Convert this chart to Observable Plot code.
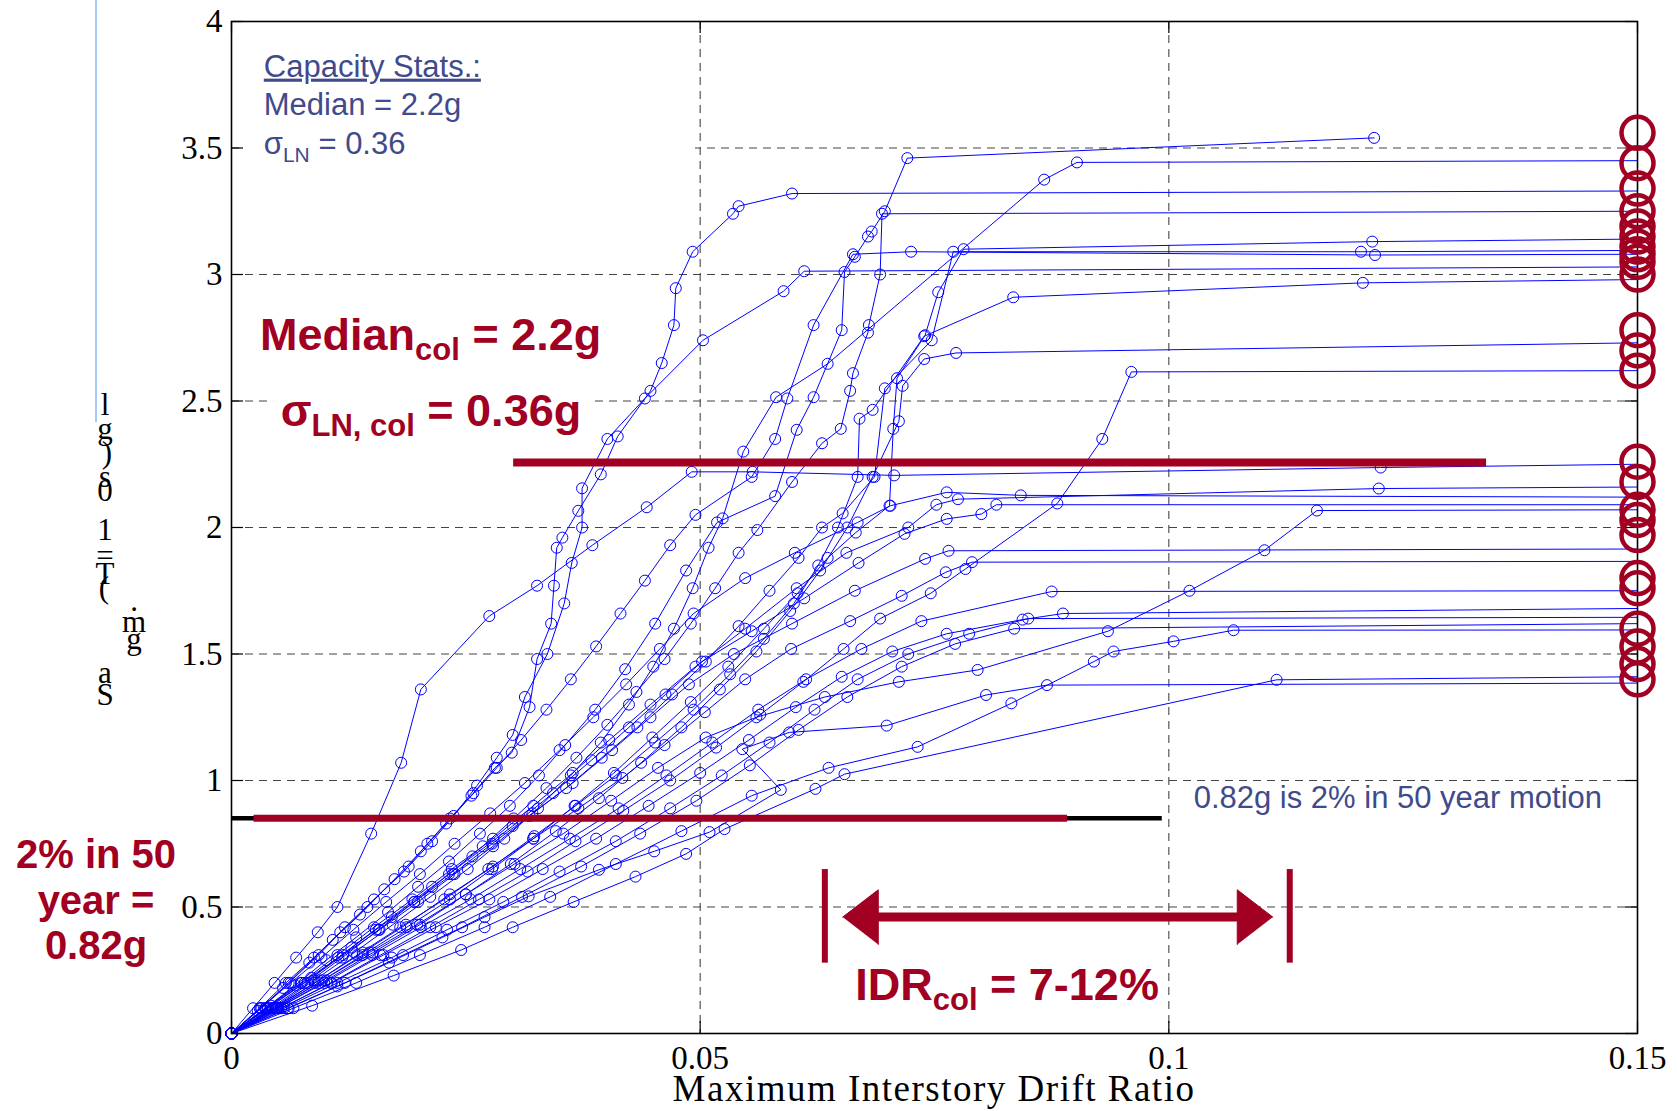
<!DOCTYPE html>
<html><head><meta charset="utf-8">
<script src="https://cdn.jsdelivr.net/npm/d3@7"></script>
<script src="https://cdn.jsdelivr.net/npm/@observablehq/plot@0.6"></script>
<style>html,body{margin:0;padding:0;background:#fff;} svg{display:block}</style>
</head><body><div id="chart"></div>
<script>
// ---- IDA curves: [max interstory drift ratio, Sa (g)] ----
const curve01 = [[0,0],[0.0023,0.1],[0.0046,0.2],[0.0069,0.3],[0.0092,0.4],[0.0113,0.50],[0.0149,0.79],[0.0181,1.07],[0.0202,1.36],[0.0275,1.65],[0.0326,1.77],[0.0385,1.93],[0.0443,2.08],[0.0491,2.22],[0.0556,2.22],[0.0707,2.206],[0.1226,2.237],[0.15,2.25]];
const curve02 = [[0,0],[0.0032,0.1],[0.0061,0.2],[0.0093,0.31],[0.0121,0.42],[0.0152,0.53],[0.0184,0.64],[0.0209,0.75],[0.0233,0.85],[0.0258,0.95],[0.0281,1.05],[0.0299,1.11],[0.0318,1.29],[0.0326,1.48],[0.0341,1.62],[0.0344,1.77],[0.0347,1.92],[0.0353,1.96],[0.037,2.066],[0.0394,2.21],[0.0412,2.36],[0.0447,2.54],[0.0459,2.65],[0.0472,2.80],[0.0474,2.946],[0.0492,3.09],[0.0535,3.24],[0.0541,3.27],[0.0598,3.32],[0.15,3.33]];
const curve03 = [[0,0],[0.0028,0.09],[0.0055,0.18],[0.0083,0.28],[0.0108,0.37],[0.0137,0.47],[0.0163,0.57],[0.0189,0.66],[0.0214,0.76],[0.0237,0.86],[0.0262,0.98],[0.0283,1.09],[0.030,1.18],[0.0313,1.33],[0.0337,1.50],[0.0355,1.70],[0.0363,1.86],[0.0374,2.0],[0.0374,2.155],[0.0401,2.35],[0.0441,2.51],[0.0503,2.74],[0.0589,2.934],[0.0611,3.013],[0.15,3.03]];
const curve04 = [[0,0],[0.0036,0.1],[0.0068,0.19],[0.0101,0.29],[0.0133,0.38],[0.0167,0.48],[0.0199,0.58],[0.0232,0.68],[0.0265,0.79],[0.0297,0.90],[0.0328,1.02],[0.0356,1.14],[0.0388,1.28],[0.042,1.44],[0.0452,1.62],[0.0485,1.83],[0.0518,2.02],[0.0580,2.124],[0.0603,2.386],[0.0621,2.515],[0.0651,2.78],[0.0654,3.01],[0.0665,3.07],[0.0679,3.15],[0.0683,3.17],[0.0697,3.25],[0.0721,3.46],[0.1219,3.54]];
const curve05 = [[0,0],[0.0042,0.1],[0.0081,0.2],[0.0118,0.3],[0.0157,0.41],[0.0195,0.52],[0.0232,0.63],[0.0268,0.74],[0.0301,0.85],[0.0336,0.97],[0.0368,1.09],[0.0401,1.22],[0.0432,1.35],[0.0462,1.48],[0.049,1.62],[0.0516,1.76],[0.0541,1.9],[0.0561,1.99],[0.0598,2.18],[0.063,2.333],[0.065,2.39],[0.066,2.54],[0.0663,2.61],[0.0679,2.77],[0.068,2.80],[0.0692,3.0],[0.0694,3.24],[0.15,3.25]];
const curve06 = [[0,0],[0.0044,0.1],[0.0088,0.21],[0.0131,0.32],[0.0172,0.43],[0.0212,0.54],[0.0252,0.65],[0.0291,0.77],[0.0327,0.89],[0.0362,1.02],[0.0394,1.15],[0.0424,1.3],[0.045,1.45],[0.0472,1.6],[0.0492,1.76],[0.0509,1.92],[0.0524,2.036],[0.0546,2.3],[0.0581,2.515],[0.0636,2.647],[0.0867,3.375],[0.0902,3.443],[0.15,3.45]];
const curve07 = [[0,0],[0.0047,0.1],[0.0093,0.2],[0.014,0.31],[0.0187,0.42],[0.0233,0.53],[0.0278,0.65],[0.0322,0.77],[0.0366,0.9],[0.0408,1.03],[0.0449,1.17],[0.049,1.31],[0.053,1.45],[0.0568,1.6],[0.0604,1.74],[0.0636,1.88],[0.0666,1.98],[0.0702,2.086],[0.0706,2.39],[0.0710,2.59],[0.074,2.76],[0.0754,2.93],[0.0781,3.10],[0.1217,3.13],[0.15,3.14]];
const curve08 = [[0,0],[0.0039,0.1],[0.0078,0.2],[0.0119,0.31],[0.0158,0.41],[0.0199,0.52],[0.0238,0.63],[0.0279,0.74],[0.0318,0.86],[0.0357,0.97],[0.0395,1.09],[0.0433,1.21],[0.047,1.34],[0.0506,1.47],[0.0541,1.61],[0.0574,1.75],[0.0605,1.88],[0.063,2.0],[0.0652,2.056],[0.0686,2.2],[0.0697,2.55],[0.0747,2.74],[0.077,3.09],[0.1205,3.09],[0.15,3.095]];
const curve09 = [[0,0],[0.003,0.1],[0.0058,0.2],[0.0088,0.3],[0.0116,0.4],[0.0145,0.5],[0.0174,0.61],[0.0202,0.72],[0.0229,0.83],[0.0256,0.94],[0.0283,1.05],[0.0309,1.16],[0.0336,1.28],[0.0362,1.4],[0.0389,1.53],[0.0415,1.66],[0.0441,1.79],[0.0468,1.93],[0.0495,2.05],[0.0555,2.2],[0.058,2.35],[0.0593,2.51],[0.0621,2.8],[0.0663,3.08],[0.0725,3.09],[0.122,3.077],[0.15,3.08]];
const curve10 = [[0,0],[0.0046,0.1],[0.0093,0.21],[0.014,0.32],[0.0186,0.43],[0.0233,0.55],[0.0279,0.66],[0.0323,0.78],[0.0367,0.9],[0.041,1.02],[0.0452,1.15],[0.0493,1.28],[0.0532,1.42],[0.0568,1.56],[0.06,1.7],[0.0626,1.85],[0.0647,2.0],[0.0668,2.2],[0.067,2.43],[0.0684,2.465],[0.0739,2.756],[0.0834,2.91],[0.1207,2.967],[0.15,2.98]];
const curve11 = [[0,0],[0.005,0.1],[0.0101,0.21],[0.0151,0.32],[0.0201,0.43],[0.025,0.55],[0.0298,0.67],[0.0346,0.8],[0.0392,0.93],[0.0437,1.07],[0.048,1.21],[0.0521,1.36],[0.056,1.51],[0.0596,1.67],[0.0628,1.83],[0.0657,2.0],[0.0684,2.2],[0.0712,2.42],[0.0716,2.56],[0.0739,2.666],[0.0773,2.69],[0.15,2.73]];
const curve12 = [[0,0],[0.0053,0.1],[0.0106,0.2],[0.0159,0.31],[0.0212,0.42],[0.0264,0.53],[0.0316,0.64],[0.0367,0.76],[0.0418,0.88],[0.0468,1.0],[0.0517,1.13],[0.0564,1.26],[0.061,1.39],[0.0653,1.52],[0.0692,1.64],[0.0746,1.74],[0.0783,1.836],[0.0881,2.095],[0.0929,2.35],[0.096,2.615],[0.15,2.62]];
const curve13 = [[0,0],[0.0036,0.1],[0.0074,0.2],[0.0113,0.31],[0.0152,0.42],[0.0193,0.53],[0.0235,0.65],[0.0279,0.77],[0.0322,0.9],[0.0364,1.03],[0.0403,1.16],[0.0447,1.3],[0.0495,1.45],[0.0548,1.6],[0.0603,1.76],[0.0656,1.9],[0.0722,2.0],[0.0752,2.09],[0.0775,2.112],[0.1224,2.154],[0.15,2.16]];
const curve14 = [[0,0],[0.0031,0.1],[0.0063,0.2],[0.0096,0.3],[0.013,0.41],[0.0165,0.52],[0.0201,0.63],[0.0238,0.75],[0.0276,0.87],[0.0313,0.99],[0.035,1.12],[0.0386,1.25],[0.0421,1.38],[0.0457,1.52],[0.0493,1.66],[0.0548,1.8],[0.0601,1.9],[0.0668,2.02],[0.0703,2.086],[0.0763,2.139],[0.0842,2.127],[0.15,2.12]];
const curve15 = [[0,0],[0.0042,0.11],[0.0085,0.22],[0.0128,0.34],[0.0171,0.46],[0.0214,0.58],[0.0257,0.7],[0.03,0.82],[0.0343,0.95],[0.0384,1.08],[0.0424,1.21],[0.0463,1.34],[0.0502,1.47],[0.0555,1.59],[0.0611,1.72],[0.0669,1.86],[0.0718,1.975],[0.0763,2.034],[0.08,2.053],[0.0816,2.09],[0.15,2.09]];
const curve16 = [[0,0],[0.0048,0.1],[0.0097,0.21],[0.0147,0.32],[0.0198,0.43],[0.025,0.55],[0.0302,0.67],[0.0354,0.79],[0.0405,0.92],[0.0455,1.05],[0.0506,1.17],[0.056,1.25],[0.0633,1.33],[0.0712,1.39],[0.0796,1.437],[0.0935,1.59],[0.1022,1.75],[0.1102,1.91],[0.1158,2.067],[0.15,2.07]];
const curve17 = [[0,0],[0.0037,0.1],[0.0075,0.2],[0.0114,0.3],[0.0154,0.41],[0.0195,0.52],[0.0236,0.63],[0.0278,0.75],[0.0321,0.87],[0.0364,0.99],[0.0406,1.12],[0.0447,1.25],[0.0488,1.38],[0.0536,1.5],[0.0598,1.62],[0.0665,1.75],[0.074,1.876],[0.0765,1.908],[0.15,1.915]];
const curve18 = [[0,0],[0.0044,0.1],[0.0089,0.2],[0.0134,0.31],[0.018,0.42],[0.0227,0.53],[0.0274,0.65],[0.0322,0.77],[0.037,0.89],[0.0417,1.01],[0.0462,1.14],[0.0505,1.27],[0.0548,1.4],[0.0597,1.52],[0.066,1.63],[0.0715,1.73],[0.0762,1.823],[0.079,1.863],[0.15,1.866]];
const curve19 = [[0,0],[0.0049,0.1],[0.0099,0.2],[0.015,0.31],[0.0202,0.42],[0.0255,0.53],[0.0308,0.65],[0.0361,0.77],[0.0413,0.89],[0.0464,1.02],[0.0513,1.15],[0.0562,1.28],[0.0613,1.4],[0.0672,1.52],[0.0736,1.63],[0.0875,1.747],[0.15,1.75]];
const curve20 = [[0,0],[0.0053,0.1],[0.0107,0.2],[0.0162,0.31],[0.0218,0.42],[0.0275,0.53],[0.0332,0.65],[0.0389,0.77],[0.0445,0.9],[0.05,1.03],[0.0552,1.16],[0.0602,1.29],[0.0651,1.41],[0.0705,1.51],[0.0763,1.58],[0.0844,1.636],[0.0887,1.66],[0.15,1.68]];
const curve21 = [[0,0],[0.0056,0.1],[0.0113,0.2],[0.0171,0.3],[0.023,0.41],[0.029,0.52],[0.035,0.64],[0.041,0.76],[0.0468,0.89],[0.0523,1.02],[0.0574,1.15],[0.0622,1.28],[0.0668,1.4],[0.0722,1.5],[0.0787,1.58],[0.085,1.64],[0.15,1.645]];
const curve22 = [[0,0],[0.006,0.1],[0.0121,0.2],[0.0183,0.31],[0.0246,0.42],[0.031,0.54],[0.0373,0.66],[0.0436,0.79],[0.0496,0.92],[0.0553,1.06],[0.0605,1.2],[0.0657,1.33],[0.0715,1.45],[0.0772,1.54],[0.0835,1.6],[0.15,1.62]];
const curve23 = [[0,0],[0.0066,0.1],[0.0133,0.2],[0.0201,0.31],[0.027,0.42],[0.034,0.54],[0.041,0.67],[0.048,0.8],[0.0555,0.94],[0.0637,1.05],[0.0732,1.133],[0.0832,1.305],[0.092,1.47],[0.0941,1.51],[0.1005,1.55],[0.1069,1.594],[0.15,1.595]];
const curve24 = [[0,0],[0.0061,0.1],[0.0113,0.186],[0.0168,0.28],[0.0225,0.38],[0.027,0.46],[0.0317,0.542],[0.0392,0.647],[0.0451,0.72],[0.051,0.796],[0.0586,0.963],[0.0545,1.124],[0.0595,1.19],[0.0699,1.217],[0.0805,1.338],[0.087,1.377],[0.15,1.385]];
const curve25 = [[0,0],[0.0086,0.11],[0.0173,0.229],[0.0245,0.33],[0.03,0.42],[0.0365,0.52],[0.0431,0.62],[0.0485,0.71],[0.0526,0.808],[0.0623,0.967],[0.0654,1.025],[0.1115,1.398],[0.15,1.41]];
const curves = [curve01,curve02,curve03,curve04,curve05,curve06,curve07,curve08,curve09,curve10,curve11,curve12,curve13,curve14,curve15,curve16,curve17,curve18,curve19,curve20,curve21,curve22,curve23,curve24,curve25];

// collapse points (red circles) at the drift cap
const collapseDrift = 0.15;
const collapseSa = [3.56,3.44,3.34,3.25,3.19,3.15,3.11,3.08,3.05,3.0,2.78,2.70,2.62,2.26,2.18,2.07,2.03,1.97,1.80,1.76,1.60,1.53,1.46,1.40];

// axes ticks
const xTicks = [0, 0.05, 0.1, 0.15];
const yTicks = [0, 0.5, 1, 1.5, 2, 2.5, 3, 3.5, 4];
const xGrid = [0.05, 0.1];
const yGrid = [0.5, 1, 1.5, 2, 2.5, 3, 3.5];

// annotation lines
const medianBar = [{y: 2.257, x1: 0.0301, x2: 0.1339}];
const hazardLine = [{y: 0.851, x1: 0, x2: 0.0993}];
const hazardBar = [{y: 0.851, x1: 0.0024, x2: 0.0892}];
const idrLimits = [{x: 0.0633, y1: 0.278, y2: 0.648}, {x: 0.1129, y1: 0.278, y2: 0.648}];
const idrArrow = {y: 0.46, xLeft: 0.0652, xRight: 0.1111, head: 0.0038, half: 0.108};
// white boxes behind text blocks (data extents)
const textBoxes = [{x1: 0.0012, x2: 0.0495, y1: 3.40, y2: 3.93}, {x1: 0.0045, x2: 0.0386, y1: 2.36, y2: 2.56}];

// ---- layout / style ----
const W = 1677, H = 1111;
const RED = "#a10022", BLUE = "#0000ff", SLATE = "#404a8c";

const pts = curves.flatMap((c, i) => c.map(([x, y]) => ({id: i, x, y})));
const markers = pts.filter(d => d.x < collapseDrift);

const heads = [
  {id: "L", p: [[idrArrow.xLeft, idrArrow.y], [idrArrow.xLeft + idrArrow.head, idrArrow.y + idrArrow.half], [idrArrow.xLeft + idrArrow.head, idrArrow.y - idrArrow.half]]},
  {id: "R", p: [[idrArrow.xRight, idrArrow.y], [idrArrow.xRight - idrArrow.head, idrArrow.y + idrArrow.half], [idrArrow.xRight - idrArrow.head, idrArrow.y - idrArrow.half]]}
].flatMap(h => h.p.map(([x, y]) => ({id: h.id, x, y})));
const shaft = [{y: idrArrow.y, x1: idrArrow.xLeft + idrArrow.head * 0.5, x2: idrArrow.xRight - idrArrow.head * 0.5}];

const pxX = 0.15 / 1406, pxY = 4 / 1012; // data units per pixel (for inward tick length)
const tl = 12;

const plot = Plot.plot({
  width: W, height: H,
  marginLeft: 231, marginRight: 40, marginTop: 21, marginBottom: 78,
  x: {domain: [0, 0.15]},
  y: {domain: [0, 4]},
  style: {background: "white", fontFamily: "'Liberation Serif', 'Times New Roman', serif", fontSize: "33px", color: "black", overflow: "visible"},
  marks: [
    Plot.ruleX(xGrid, {stroke: "#444", strokeDasharray: "8,6", strokeWidth: 1.1}),
    Plot.ruleY(yGrid, {stroke: "#444", strokeDasharray: "8,6", strokeWidth: 1.1}),
    Plot.rect(textBoxes, {x1: "x1", x2: "x2", y1: "y1", y2: "y2", fill: "white"}),
    Plot.line(pts, {x: "x", y: "y", z: "id", stroke: BLUE, strokeWidth: 1, curve: "linear"}),
    Plot.dot(markers, {x: "x", y: "y", r: 5.5, stroke: BLUE, strokeWidth: 1, fill: "none"}),
    Plot.ruleY(hazardLine, {y: "y", x1: "x1", x2: "x2", stroke: "black", strokeWidth: 4.5}),
    Plot.ruleY(hazardBar, {y: "y", x1: "x1", x2: "x2", stroke: RED, strokeWidth: 7}),
    Plot.ruleY(medianBar, {y: "y", x1: "x1", x2: "x2", stroke: RED, strokeWidth: 8}),
    Plot.ruleX(idrLimits, {x: "x", y1: "y1", y2: "y2", stroke: RED, strokeWidth: 6}),
    Plot.ruleY(shaft, {y: "y", x1: "x1", x2: "x2", stroke: RED, strokeWidth: 9}),
    Plot.line(heads, {x: "x", y: "y", z: "id", fill: RED, stroke: RED, strokeWidth: 1}),
    // inward ticks
    Plot.ruleX(xTicks, {y1: 0, y2: tl * pxY, stroke: "black", strokeWidth: 1.2}),
    Plot.ruleX(xTicks, {y1: 4 - tl * pxY, y2: 4, stroke: "black", strokeWidth: 1.2}),
    Plot.ruleY(yTicks, {x1: 0, x2: tl * pxX, stroke: "black", strokeWidth: 1.2}),
    Plot.ruleY(yTicks, {x1: 0.15 - tl * pxX, x2: 0.15, stroke: "black", strokeWidth: 1.2}),
    Plot.frame({stroke: "black", strokeWidth: 1.6}),
    Plot.dot(collapseSa, {x: () => collapseDrift, y: d => d, r: 16, stroke: RED, strokeWidth: 4.5, fill: "none"}),
    Plot.axisX(xTicks, {tickSize: 0, tickPadding: 12, tickFormat: d => String(d), label: null}),
    Plot.axisY(yTicks, {tickSize: 0, tickPadding: 9, tickFormat: d => String(d), label: null})
  ]
});

document.getElementById("chart").append(plot);

// ---- text annotations (positioned through the plot's scales) ----
const svg = d3.select(plot);
const sx = plot.scale("x"), sy = plot.scale("y");
const X = v => sx.apply(v), Y = v => sy.apply(v);

function rich(x, y, parts, opt) {
  const t = svg.append("text")
    .attr("x", X(x)).attr("y", Y(y))
    .attr("font-family", opt.family)
    .attr("font-weight", opt.weight || "normal")
    .attr("font-size", opt.size)
    .attr("fill", opt.fill)
    .attr("text-anchor", opt.anchor || "start");
  if (opt.underline) t.attr("text-decoration", "underline");
  let shift = 0;
  parts.forEach(p => {
    const s = t.append("tspan").text(p.t);
    const want = p.sub ? opt.subShift : 0;
    if (want !== shift) { s.attr("dy", want - shift); shift = want; }
    if (p.sub) s.attr("font-size", opt.subSize);
  });
  return t;
}
const SANS = "'Liberation Sans', Arial, sans-serif";

// Capacity stats block
rich(0.0035, 3.78, [{t: "Capacity Stats.:"}], {family: SANS, size: 31, fill: SLATE, underline: true});
rich(0.0035, 3.627, [{t: "Median = 2.2g"}], {family: SANS, size: 31, fill: SLATE});
rich(0.0035, 3.475, [{t: "σ"}, {t: "LN", sub: true}, {t: " = 0.36"}], {family: SANS, size: 31, fill: SLATE, subSize: 21, subShift: 8});

// bold red annotations
rich(0.0031, 2.70, [{t: "Median"}, {t: "col", sub: true}, {t: " = 2.2g"}], {family: SANS, weight: "bold", size: 45, fill: RED, subSize: 31, subShift: 10});
rich(0.0053, 2.40, [{t: "σ"}, {t: "LN, col", sub: true}, {t: " = 0.36g"}], {family: SANS, weight: "bold", size: 45, fill: RED, subSize: 31, subShift: 10});
rich(0.0666, 0.13, [{t: "IDR"}, {t: "col", sub: true}, {t: " = 7-12%"}], {family: SANS, weight: "bold", size: 45, fill: RED, subSize: 31, subShift: 10});

// hazard level note
rich(-0.0144, 0.652, [{t: "2% in 50"}], {family: SANS, weight: "bold", size: 40, fill: RED, anchor: "middle"});
rich(-0.0144, 0.470, [{t: "year ="}], {family: SANS, weight: "bold", size: 40, fill: RED, anchor: "middle"});
rich(-0.0144, 0.293, [{t: "0.82g"}], {family: SANS, weight: "bold", size: 40, fill: RED, anchor: "middle"});
rich(0.1027, 0.888, [{t: "0.82g is 2% in 50 year motion"}], {family: SANS, size: 31, fill: SLATE});

// x axis title
rich(0.075, -0.268, [{t: "Maximum Interstory Drift Ratio"}], {family: "'Liberation Serif', serif", size: 37, fill: "black", anchor: "middle"}).attr("letter-spacing", 1.5);

// y axis title, as it appears in the reference (glyphs stacked upright)
const yLabelGlyphs = [
  {ch: "l", px: 105, py: 404}, {ch: "g", px: 105, py: 428}, {ch: ")", px: 107, py: 452},
  {ch: "s", px: 105, py: 476}, {ch: "0", px: 105, py: 490}, {ch: "1", px: 105, py: 529},
  {ch: "=", px: 105, py: 555}, {ch: "T", px: 105, py: 573}, {ch: "(", px: 104, py: 587},
  {ch: ".", px: 134, py: 600}, {ch: "m", px: 134, py: 621}, {ch: "g", px: 134, py: 638},
  {ch: "a", px: 105, py: 672}, {ch: "S", px: 105, py: 694}
];
svg.append("g").selectAll("text").data(yLabelGlyphs).join("text")
  .attr("x", d => d.px).attr("y", d => d.py)
  .attr("text-anchor", "middle").attr("dominant-baseline", "central")
  .attr("font-family", "'Liberation Serif', serif").attr("font-size", 31)
  .attr("fill", "black").text(d => d.ch);
svg.append("line").attr("x1", 96).attr("x2", 96).attr("y1", 0).attr("y2", 422)
  .attr("stroke", "#86b6f2").attr("stroke-width", 1.5);
</script>
</body></html>
